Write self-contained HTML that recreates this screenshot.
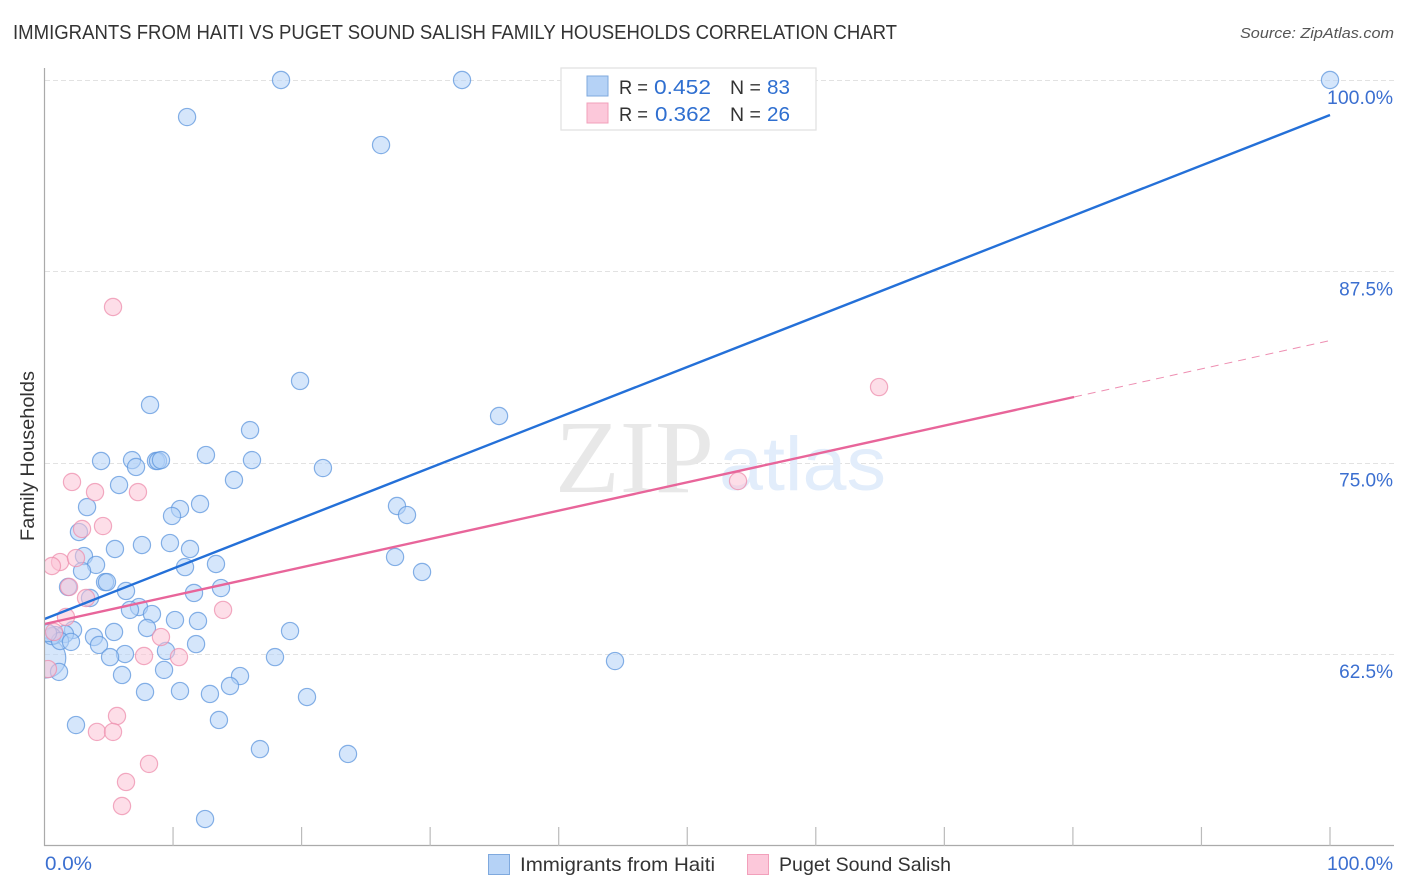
<!DOCTYPE html>
<html lang="en">
<head>
<meta charset="utf-8">
<title>Immigrants from Haiti vs Puget Sound Salish Family Households Correlation Chart</title>
<style>
html,body{margin:0;padding:0;background:#fff;width:1406px;height:892px;overflow:hidden}
svg{display:block;font-family:"Liberation Sans",sans-serif}
</style>
</head>
<body>
<svg id="chart" width="1406" height="892" viewBox="0 0 1406 892" xmlns="http://www.w3.org/2000/svg">
  <defs><clipPath id="plot-clip"><rect x="45" y="60" width="1355" height="786"/></clipPath></defs>
  <rect width="1406" height="892" fill="#fff"/>
  <text x="13" y="39" font-size="20" fill="#333" textLength="884" lengthAdjust="spacingAndGlyphs">IMMIGRANTS FROM HAITI VS PUGET SOUND SALISH FAMILY HOUSEHOLDS CORRELATION CHART</text>
  <text x="1394" y="38" font-size="15" font-style="italic" fill="#555" text-anchor="end" textLength="154" lengthAdjust="spacingAndGlyphs">Source: ZipAtlas.com</text>
  <g id="grid"></g>
  <g>
    <text x="555" y="492" font-family="'Liberation Serif',serif" font-size="104" fill="#e8e8e8" textLength="159" lengthAdjust="spacingAndGlyphs">ZIP</text>
    <text x="719" y="490" font-size="76" fill="#e2edfb" textLength="167" lengthAdjust="spacingAndGlyphs">atlas</text>
  </g>
  <g id="points-blue" clip-path="url(#plot-clip)"></g>
  <g id="points-pink" clip-path="url(#plot-clip)"></g>
  <g id="lines"></g>
  <line x1="44.5" y1="68" x2="44.5" y2="846" stroke="#aaa" stroke-width="1.2"/>
  <line x1="44" y1="845.5" x2="1394" y2="845.5" stroke="#aaa" stroke-width="1.2"/>
  <g id="x-ticks"></g>
  <g id="y-labels"></g>
  <text transform="translate(34,456) rotate(-90)" font-size="19" fill="#333" text-anchor="middle" textLength="170" lengthAdjust="spacingAndGlyphs">Family Households</text>
  <g id="x-labels"></g>

  <g>
    <rect x="561" y="68" width="255" height="62" fill="#fff" stroke="#e2e2e2" stroke-width="1.3"/>
    <rect x="587" y="76" width="21" height="20" fill="#b5d2f6" stroke="#7fa9de" stroke-width="1"/>
    <rect x="587" y="103" width="21" height="20" fill="#fcc8da" stroke="#f2a0bb" stroke-width="1"/>
    <text x="619" y="94" font-size="19.5" fill="#333" textLength="29" lengthAdjust="spacingAndGlyphs">R =</text>
    <text x="654" y="94" font-size="20.5" fill="#2f6fd0" textLength="57" lengthAdjust="spacingAndGlyphs">0.452</text>
    <text x="730" y="94" font-size="19.5" fill="#333">N =</text>
    <text x="767" y="94" font-size="20.5" fill="#2f6fd0" textLength="23" lengthAdjust="spacingAndGlyphs">83</text>
    <text x="619" y="121" font-size="19.5" fill="#333" textLength="29" lengthAdjust="spacingAndGlyphs">R =</text>
    <text x="655" y="121" font-size="20.5" fill="#2f6fd0" textLength="56" lengthAdjust="spacingAndGlyphs">0.362</text>
    <text x="730" y="121" font-size="19.5" fill="#333">N =</text>
    <text x="767" y="121" font-size="20.5" fill="#2f6fd0" textLength="23" lengthAdjust="spacingAndGlyphs">26</text>
  </g>

  <g>
    <rect x="488.5" y="854.5" width="21" height="20" fill="#b5d2f6" stroke="#7fa9de" stroke-width="1"/>
    <text x="520" y="871" font-size="19.5" fill="#333" textLength="195" lengthAdjust="spacingAndGlyphs">Immigrants from Haiti</text>
    <rect x="747.5" y="854.5" width="21" height="20" fill="#fcc8da" stroke="#f2a0bb" stroke-width="1"/>
    <text x="779" y="871" font-size="19.5" fill="#333" textLength="172" lengthAdjust="spacingAndGlyphs">Puget Sound Salish</text>
  </g>
</svg>

<script>
const yTickValues = [100, 87.5, 75, 62.5];
const yTickLabels = ['100.0%', '87.5%', '75.0%', '62.5%'];
const xTickValues = [10, 20, 30, 40, 50, 60, 70, 80, 90, 100];
const xEndValues = [0, 100];
const xEndLabels = ['0.0%', '100.0%'];

const haitiX = [18.40,32.48,100,11.09,26.18,19.88,8.21,35.36,15.99,12.56,4.40,6.81,7.12,8.67,8.83,9.06,16.14,21.66,14.74,5.80,27.42,28.20,3.31,12.10,10.54,9.92,2.68,7.58,5.48,9.76,11.32,3.07,27.27,4.01,13.34,10.93,2.92,29.37,4.71,4.86,1.83,13.73,6.34,11.63,3.54,7.35,6.65,8.36,11.94,10.15,7.97,2.22,19.10,5.41,1.59,3.85,0.82,0.58,1.21,2.06,4.24,11.79,9.45,6.26,5.10,17.93,44.38,9.30,1.13,6.03,15.21,14.43,7.82,10.54,12.87,20.42,13.57,2.45,16.76,23.61,12.49,0.27];
const haitiY = [100,100,100,97.58,95.75,80.34,78.77,78.05,77.13,75.50,75.11,75.17,74.72,75.11,75.11,75.17,75.17,74.65,73.87,73.54,72.17,71.58,72.10,72.30,71.97,71.52,70.47,69.62,69.36,69.75,69.36,68.90,68.84,68.32,68.38,68.18,67.92,67.86,67.20,67.20,66.88,66.81,66.62,66.49,66.16,65.57,65.38,65.11,64.66,64.72,64.20,64.07,64.00,63.94,63.81,63.61,63.74,63.67,63.35,63.29,63.09,63.15,62.70,62.50,62.30,62.30,62.04,61.46,61.33,61.13,61.06,60.41,60.02,60.08,59.89,59.69,58.19,57.86,56.29,55.97,51.72,63.87];
const haitiLargeX = [0.10];
const haitiLargeY = [62.24];

const salishX = [5.33,64.92,53.95,2.14,3.93,7.27,2.92,4.55,1.21,0.58,2.45,1.91,3.23,13.89,1.67,9.06,7.74,10.46,0.74,0.27,5.64,4.08,5.33,8.13,6.34,6.03];
const salishY = [85.17,79.94,73.80,73.74,73.08,73.08,70.67,70.86,68.51,68.25,68.77,66.88,66.16,65.38,64.92,63.61,62.37,62.30,63.94,61.52,58.45,57.41,57.41,55.32,54.14,52.57];

const haitiTrendX = [0, 100];
const haitiTrendY = [64.79, 97.71];
const salishTrendX = [0, 80.09];
const salishTrendY = [64.46, 79.29];
const salishDashX = [80.09, 99.84];
const salishDashY = [79.29, 82.95];

const NS = 'http://www.w3.org/2000/svg';
const xScale = v => 44.5 + v * 12.855;
const yScale = v => 80 + (100 - v) * 15.307;
const make = (tag, parent) => parent.appendChild(document.createElementNS(NS, tag));
const byId = id => document.getElementById(id);

yTickValues.forEach((v, i) => {
  const g = make('line', byId('grid'));
  
  
  g.setAttribute('x1', 45);
  g.setAttribute('x2', 1394);
  g.setAttribute('y1', Math.round(yScale(v)) + 0.5);
  g.setAttribute('y2', Math.round(yScale(v)) + 0.5);
  g.setAttribute('stroke', '#e2e2e2');
  g.setAttribute('stroke-width', 1);
  g.setAttribute('stroke-dasharray', '5 3');

  const t = make('text', byId('y-labels'));
  
  
  t.setAttribute('x', 1393);
  t.setAttribute('y', yScale(v) + 24);
  t.setAttribute('font-size', 19);
  t.setAttribute('fill', '#3b6fd0');
  t.setAttribute('text-anchor', 'end');
  if (i === 0) t.setAttribute('textLength', 66);
  if (i === 0) t.setAttribute('lengthAdjust', 'spacingAndGlyphs');
  t.textContent = yTickLabels[i];
});

xTickValues.forEach(v => {
  const l = make('line', byId('x-ticks'));
  
  
  l.setAttribute('x1', xScale(v));
  l.setAttribute('x2', xScale(v));
  l.setAttribute('y1', 827);
  l.setAttribute('y2', 846);
  l.setAttribute('stroke', '#bbb');
  l.setAttribute('stroke-width', 1.2);
});

xEndValues.forEach((v, i) => {
  const t = make('text', byId('x-labels'));
  
  
  t.setAttribute('x', i === 0 ? xScale(v) + 0.5 : xScale(v) + 63);
  t.setAttribute('y', 870);
  t.setAttribute('font-size', 19.5);
  t.setAttribute('fill', '#3b6fd0');
  t.setAttribute('text-anchor', i === 0 ? 'start' : 'end');
  t.setAttribute('textLength', i === 0 ? 47 : 66);
  t.setAttribute('lengthAdjust', 'spacingAndGlyphs');
  t.textContent = xEndLabels[i];
});

function drawPoint(parent, x, y, r, fill, stroke) {
  const c = make('circle', parent);
  c.setAttribute('cx', xScale(x));
  c.setAttribute('cy', yScale(y));
  c.setAttribute('r', r);
  c.setAttribute('fill', fill);
  c.setAttribute('fill-opacity', 0.55);
  c.setAttribute('stroke', stroke);
  c.setAttribute('stroke-opacity', 0.75);
  c.setAttribute('stroke-width', 1.2);
  return c;
}

haitiLargeX.forEach((x, i) => {
  const c = drawPoint(byId('points-blue'), x, haitiLargeY[i], 20, '#b3d1f7', '#5f97de');
  
  
});
haitiX.forEach((x, i) => {
  const c = drawPoint(byId('points-blue'), x, haitiY[i], 8.6, '#b3d1f7', '#5f97de');
  
  
});
salishX.forEach((x, i) => {
  const c = drawPoint(byId('points-pink'), x, salishY[i], 8.6, '#fbc3d6', '#ee8fae');
  
  
});

function drawLine(xs, ys, color, width, dash) {
  const l = make('line', byId('lines'));
  l.setAttribute('x1', xScale(xs[0]));
  l.setAttribute('y1', yScale(ys[0]));
  l.setAttribute('x2', xScale(xs[1]));
  l.setAttribute('y2', yScale(ys[1]));
  l.setAttribute('stroke', color);
  l.setAttribute('stroke-width', width);
  if (dash) l.setAttribute('stroke-dasharray', dash);
  return l;
}
const haitiTrend = drawLine(haitiTrendX, haitiTrendY, '#2470d8', 2.4);


const salishTrend = drawLine(salishTrendX, salishTrendY, '#e8659a', 2.4);


const salishDash = drawLine(salishDashX, salishDashY, '#ee8fb2', 1, '8 6');


</script>
</body>
</html>
